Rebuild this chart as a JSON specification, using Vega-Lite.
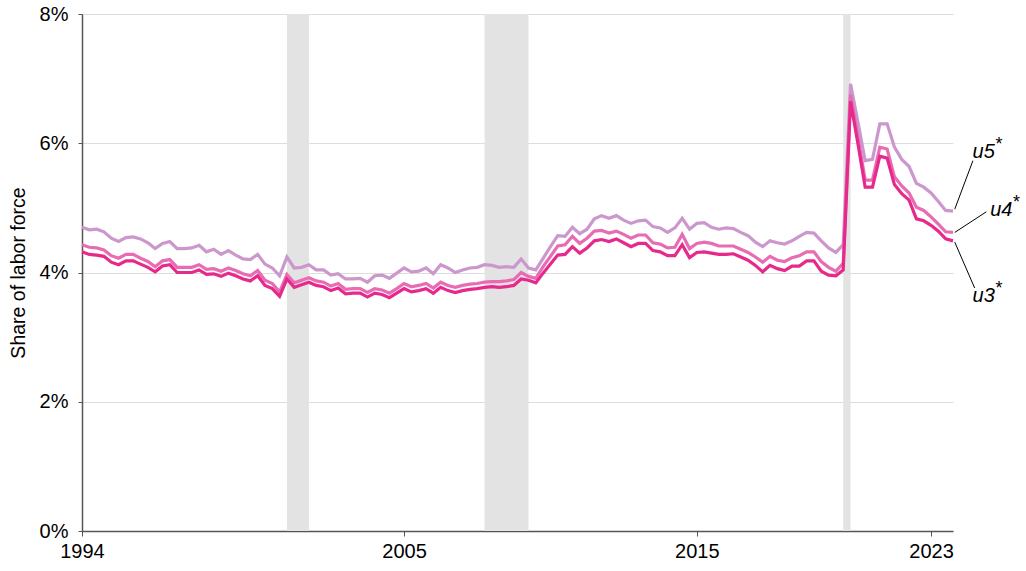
{
  "$schema": "https://vega.github.io/schema/vega-lite/v6.json",
  "width": 871,
  "height": 517,
  "autosize": {"type": "none"},
  "padding": {"left": 82, "top": 14, "right": 73, "bottom": 40},
  "config": {
    "view": {"stroke": null},
    "font": "Liberation Sans",
    "text": {"font": "Liberation Sans"}
  },
  "datasets": {
    "series": [
      {"t":1994,"u3":4.32,"u4":4.43,"u5":4.70},{"t":1994.25,"u3":4.28,"u4":4.39,"u5":4.66},{"t":1994.5,"u3":4.27,"u4":4.38,"u5":4.67},{"t":1994.75,"u3":4.25,"u4":4.35,"u5":4.63},
      {"t":1995,"u3":4.16,"u4":4.26,"u5":4.53},{"t":1995.25,"u3":4.12,"u4":4.22,"u5":4.48},{"t":1995.5,"u3":4.18,"u4":4.28,"u5":4.54},{"t":1995.75,"u3":4.18,"u4":4.28,"u5":4.55},
      {"t":1996,"u3":4.13,"u4":4.22,"u5":4.52},{"t":1996.25,"u3":4.08,"u4":4.17,"u5":4.46},{"t":1996.5,"u3":4.01,"u4":4.09,"u5":4.37},{"t":1996.75,"u3":4.10,"u4":4.18,"u5":4.45},
      {"t":1997,"u3":4.12,"u4":4.20,"u5":4.48},{"t":1997.25,"u3":4.00,"u4":4.08,"u5":4.37},{"t":1997.5,"u3":4.00,"u4":4.08,"u5":4.37},{"t":1997.75,"u3":4.00,"u4":4.08,"u5":4.38},
      {"t":1998,"u3":4.04,"u4":4.12,"u5":4.42},{"t":1998.25,"u3":3.97,"u4":4.05,"u5":4.32},{"t":1998.5,"u3":3.98,"u4":4.06,"u5":4.36},{"t":1998.75,"u3":3.94,"u4":4.02,"u5":4.28},
      {"t":1999,"u3":3.99,"u4":4.07,"u5":4.34},{"t":1999.25,"u3":3.95,"u4":4.03,"u5":4.27},{"t":1999.5,"u3":3.90,"u4":3.98,"u5":4.21},{"t":1999.75,"u3":3.87,"u4":3.95,"u5":4.20},
      {"t":2000,"u3":3.95,"u4":4.03,"u5":4.28},{"t":2000.25,"u3":3.80,"u4":3.88,"u5":4.13},{"t":2000.5,"u3":3.75,"u4":3.83,"u5":4.07},{"t":2000.75,"u3":3.63,"u4":3.70,"u5":3.95},
      {"t":2001,"u3":3.90,"u4":3.97,"u5":4.24},{"t":2001.25,"u3":3.77,"u4":3.84,"u5":4.07},{"t":2001.5,"u3":3.81,"u4":3.88,"u5":4.08},{"t":2001.75,"u3":3.85,"u4":3.92,"u5":4.12},
      {"t":2002,"u3":3.80,"u4":3.87,"u5":4.04},{"t":2002.25,"u3":3.78,"u4":3.85,"u5":4.04},{"t":2002.5,"u3":3.72,"u4":3.79,"u5":3.96},{"t":2002.75,"u3":3.76,"u4":3.83,"u5":3.98},
      {"t":2003,"u3":3.67,"u4":3.74,"u5":3.90},{"t":2003.25,"u3":3.68,"u4":3.75,"u5":3.90},{"t":2003.5,"u3":3.68,"u4":3.75,"u5":3.91},{"t":2003.75,"u3":3.62,"u4":3.69,"u5":3.85},
      {"t":2004,"u3":3.68,"u4":3.75,"u5":3.95},{"t":2004.25,"u3":3.66,"u4":3.73,"u5":3.96},{"t":2004.5,"u3":3.61,"u4":3.68,"u5":3.91},{"t":2004.75,"u3":3.68,"u4":3.75,"u5":3.99},
      {"t":2005,"u3":3.75,"u4":3.83,"u5":4.07},{"t":2005.25,"u3":3.70,"u4":3.78,"u5":4.01},{"t":2005.5,"u3":3.72,"u4":3.80,"u5":4.02},{"t":2005.75,"u3":3.75,"u4":3.83,"u5":4.07},
      {"t":2006,"u3":3.68,"u4":3.76,"u5":3.98},{"t":2006.25,"u3":3.77,"u4":3.85,"u5":4.12},{"t":2006.5,"u3":3.72,"u4":3.80,"u5":4.07},{"t":2006.75,"u3":3.69,"u4":3.77,"u5":4.00},
      {"t":2007,"u3":3.72,"u4":3.80,"u5":4.04},{"t":2007.25,"u3":3.74,"u4":3.82,"u5":4.07},{"t":2007.5,"u3":3.75,"u4":3.83,"u5":4.08},{"t":2007.75,"u3":3.77,"u4":3.85,"u5":4.12},
      {"t":2008,"u3":3.78,"u4":3.86,"u5":4.11},{"t":2008.25,"u3":3.77,"u4":3.86,"u5":4.08},{"t":2008.5,"u3":3.78,"u4":3.87,"u5":4.09},{"t":2008.75,"u3":3.80,"u4":3.89,"u5":4.08},
      {"t":2009,"u3":3.90,"u4":4.00,"u5":4.21},{"t":2009.25,"u3":3.88,"u4":3.94,"u5":4.07},{"t":2009.5,"u3":3.84,"u4":3.91,"u5":4.04},{"t":2009.75,"u3":3.99,"u4":4.09,"u5":4.22},
      {"t":2010,"u3":4.13,"u4":4.25,"u5":4.40},{"t":2010.25,"u3":4.27,"u4":4.41,"u5":4.57},{"t":2010.5,"u3":4.28,"u4":4.43,"u5":4.56},{"t":2010.75,"u3":4.40,"u4":4.56,"u5":4.70},
      {"t":2011,"u3":4.30,"u4":4.45,"u5":4.60},{"t":2011.25,"u3":4.38,"u4":4.53,"u5":4.67},{"t":2011.5,"u3":4.49,"u4":4.64,"u5":4.83},{"t":2011.75,"u3":4.51,"u4":4.65,"u5":4.88},
      {"t":2012,"u3":4.48,"u4":4.61,"u5":4.84},{"t":2012.25,"u3":4.52,"u4":4.64,"u5":4.88},{"t":2012.5,"u3":4.46,"u4":4.59,"u5":4.81},{"t":2012.75,"u3":4.40,"u4":4.53,"u5":4.76},
      {"t":2013,"u3":4.45,"u4":4.58,"u5":4.80},{"t":2013.25,"u3":4.45,"u4":4.58,"u5":4.81},{"t":2013.5,"u3":4.34,"u4":4.46,"u5":4.71},{"t":2013.75,"u3":4.32,"u4":4.44,"u5":4.69},
      {"t":2014,"u3":4.26,"u4":4.38,"u5":4.62},{"t":2014.25,"u3":4.26,"u4":4.39,"u5":4.69},{"t":2014.5,"u3":4.43,"u4":4.59,"u5":4.84},{"t":2014.75,"u3":4.23,"u4":4.37,"u5":4.67},
      {"t":2015,"u3":4.31,"u4":4.45,"u5":4.76},{"t":2015.25,"u3":4.32,"u4":4.47,"u5":4.77},{"t":2015.5,"u3":4.30,"u4":4.45,"u5":4.70},{"t":2015.75,"u3":4.28,"u4":4.41,"u5":4.67},
      {"t":2016,"u3":4.28,"u4":4.41,"u5":4.69},{"t":2016.25,"u3":4.29,"u4":4.41,"u5":4.68},{"t":2016.5,"u3":4.24,"u4":4.36,"u5":4.62},{"t":2016.75,"u3":4.19,"u4":4.31,"u5":4.57},
      {"t":2017,"u3":4.11,"u4":4.24,"u5":4.47},{"t":2017.25,"u3":4.01,"u4":4.16,"u5":4.40},{"t":2017.5,"u3":4.11,"u4":4.25,"u5":4.49},{"t":2017.75,"u3":4.06,"u4":4.19,"u5":4.46},
      {"t":2018,"u3":4.03,"u4":4.17,"u5":4.44},{"t":2018.25,"u3":4.10,"u4":4.23,"u5":4.49},{"t":2018.5,"u3":4.10,"u4":4.26,"u5":4.56},{"t":2018.75,"u3":4.18,"u4":4.32,"u5":4.62},
      {"t":2019,"u3":4.18,"u4":4.32,"u5":4.61},{"t":2019.25,"u3":4.02,"u4":4.17,"u5":4.49},{"t":2019.5,"u3":3.96,"u4":4.08,"u5":4.38},{"t":2019.75,"u3":3.95,"u4":4.02,"u5":4.31},
      {"t":2020,"u3":4.04,"u4":4.14,"u5":4.43},{"t":2020.25,"u3":6.65,"u4":6.75,"u5":6.92},{"t":2020.5,"u3":6.00,"u4":6.10,"u5":6.33},{"t":2020.75,"u3":5.32,"u4":5.43,"u5":5.73},
      {"t":2021,"u3":5.32,"u4":5.43,"u5":5.75},{"t":2021.25,"u3":5.80,"u4":5.94,"u5":6.30},{"t":2021.5,"u3":5.77,"u4":5.91,"u5":6.30},{"t":2021.75,"u3":5.36,"u4":5.48,"u5":5.94},
      {"t":2022,"u3":5.22,"u4":5.34,"u5":5.75},{"t":2022.25,"u3":5.12,"u4":5.23,"u5":5.64},{"t":2022.5,"u3":4.83,"u4":5.01,"u5":5.38},{"t":2022.75,"u3":4.80,"u4":4.96,"u5":5.32},
      {"t":2023,"u3":4.73,"u4":4.86,"u5":5.23},{"t":2023.25,"u3":4.64,"u4":4.75,"u5":5.10},{"t":2023.5,"u3":4.52,"u4":4.63,"u5":4.96},{"t":2023.75,"u3":4.49,"u4":4.62,"u5":4.95}
    ],
    "rec": [
      {"s": 2001.0, "e": 2001.75},
      {"s": 2007.75, "e": 2009.25},
      {"s": 2020.0, "e": 2020.25}
    ],
    "lead": [
      {"x": 2023.81, "y": 4.98, "x2": 2024.43, "y2": 5.73},
      {"x": 2023.81, "y": 4.62, "x2": 2024.89, "y2": 4.94},
      {"x": 2023.81, "y": 4.47, "x2": 2024.49, "y2": 3.76}
    ],
    "lab": [
      {"x": 2024.42, "y": 5.86, "lab": "u5", "sx": 2025.2, "sy": 5.97},
      {"x": 2025.02, "y": 4.97, "lab": "u4", "sx": 2025.8, "sy": 5.08},
      {"x": 2024.42, "y": 3.64, "lab": "u3", "sx": 2025.2, "sy": 3.75}
    ]
  },
  "layer": [
    {
      "data": {"name": "rec"},
      "mark": {"type": "rect", "color": "#e3e3e3"},
      "encoding": {
        "x": {"field": "s", "type": "quantitative", "scale": {"domain": [1994, 2023.75], "nice": false, "zero": false}},
        "x2": {"field": "e"}
      }
    },
    {
      "data": {"name": "series"},
      "mark": {"type": "line", "color": "#cc97cc", "strokeWidth": 3.2},
      "encoding": {
        "x": {
          "field": "t", "type": "quantitative",
          "scale": {"domain": [1994, 2023.75], "nice": false, "zero": false},
          "axis": {
            "values": [1994, 2005, 2015, 2023], "format": "d", "grid": false, "title": null,
            "labelFontSize": 20, "labelColor": "#000", "labelPadding": 5, "labelFlush": false,
            "tickSize": 5, "tickColor": "#555", "domainColor": "#555", "domainWidth": 1.5
          }
        },
        "y": {
          "field": "u5", "type": "quantitative",
          "scale": {"domain": [0, 8], "nice": false},
          "axis": {
            "values": [0, 2, 4, 6, 8], "labelExpr": "datum.value + '%'",
            "title": "Share of labor force", "titleFontSize": 19.5, "titleFontWeight": "normal",
            "titleColor": "#000", "titlePadding": 11,
            "labelFontSize": 20, "labelColor": "#000", "labelPadding": 10,
            "tickSize": 4, "tickColor": "#555", "domainColor": "#555", "domainWidth": 1.5,
            "grid": true, "gridColor": "#dddddd", "gridWidth": 1
          }
        }
      }
    },
    {
      "data": {"name": "series"},
      "mark": {"type": "line", "color": "#e86cb3", "strokeWidth": 3.2},
      "encoding": {
        "x": {"field": "t", "type": "quantitative"},
        "y": {"field": "u4", "type": "quantitative"}
      }
    },
    {
      "data": {"name": "series"},
      "mark": {"type": "line", "color": "#e6298b", "strokeWidth": 3.2},
      "encoding": {
        "x": {"field": "t", "type": "quantitative"},
        "y": {"field": "u3", "type": "quantitative"}
      }
    },
    {
      "data": {"name": "lead"},
      "mark": {"type": "rule", "color": "#000", "strokeWidth": 1},
      "encoding": {
        "x": {"field": "x", "type": "quantitative"},
        "y": {"field": "y", "type": "quantitative"},
        "x2": {"field": "x2"},
        "y2": {"field": "y2"}
      }
    },
    {
      "data": {"name": "lab"},
      "mark": {"type": "text", "fontSize": 20, "fontStyle": "italic", "align": "left", "baseline": "middle", "color": "#000"},
      "encoding": {
        "x": {"field": "x", "type": "quantitative"},
        "y": {"field": "y", "type": "quantitative"},
        "text": {"field": "lab"}
      }
    },
    {
      "data": {"name": "lab"},
      "mark": {"type": "text", "fontSize": 18, "align": "left", "baseline": "middle", "color": "#000"},
      "encoding": {
        "x": {"field": "sx", "type": "quantitative"},
        "y": {"field": "sy", "type": "quantitative"},
        "text": {"value": "*"}
      }
    }
  ]
}
